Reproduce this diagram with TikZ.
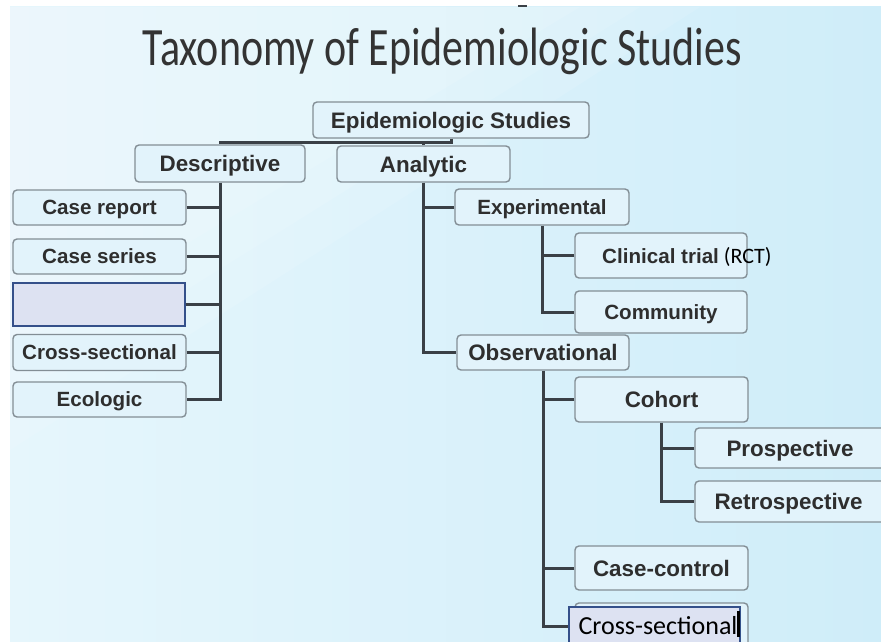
\documentclass[tikz,border=0pt]{standalone}
\usepackage{fontspec}
\setmainfont{Liberation Sans}
\newfontfamily\calib{Carlito}
\usepackage{graphicx}
\definecolor{boxline}{HTML}{838E95}
\definecolor{boxfill}{HTML}{E2F3FB}
\definecolor{txt}{HTML}{2E2E2E}
\definecolor{connc}{HTML}{3A4046}
\definecolor{navy}{HTML}{34508A}
\definecolor{lav}{HTML}{DDE2F2}
\definecolor{bgA}{HTML}{E6F6FC}
\definecolor{bgB}{HTML}{CFEDF9}
\definecolor{titlec}{HTML}{333333}
\begin{document}
\begin{tikzpicture}[x=1pt,y=-1pt,
 box/.style={draw=boxline, line width=1.4pt, rounded corners=4pt, fill=boxfill, inner sep=0pt, text=txt,
   font=\bfseries\fontsize{20.6}{24}\selectfont, text height=14.7pt, text depth=0pt},
 bigbox/.style={box, font=\bfseries\fontsize{22.4}{26}\selectfont, text height=16pt},
 conn/.style={draw=connc, line width=3pt},
 hl/.style={draw=navy, line width=1.3pt, fill=lav, inner sep=0pt}]
\useasboundingbox (0,0) rectangle (881,642);
\clip (0,0) rectangle (881,642);
\fill[white] (0,0) rectangle (881,642);
\shade[left color=bgA, right color=bgB] (10,7) rectangle (881,642);
\fill[white, opacity=0.1] (10,7) -- (700,7) -- (10,450) -- cycle;
\fill[white, opacity=0.1] (10,7) -- (640,7) -- (10,400) -- cycle;
\fill[white, opacity=0.1] (10,7) -- (580,7) -- (10,350) -- cycle;
\draw[connc, line width=1.5pt] (518,6) -- (527,6);
% title
\node[anchor=base, text=titlec, inner sep=0pt, font=\calib\fontsize{54}{60}\selectfont] (title) at (442.5,65)
  {\resizebox{599pt}{\height}{Taxonomy of Epidemiologic Studies}};
% nodes
\node[bigbox, minimum width=276pt, minimum height=36pt] (epi) at (451,120) {Epidemiologic Studies};
\node[bigbox, minimum width=170pt, minimum height=37pt] (desc) at (220,163.5) {Descriptive};
\node[bigbox, minimum width=173pt, minimum height=36pt] (ana) at (423.5,164) {Analytic};
\node[box, minimum width=173pt, minimum height=35pt] (crep) at (99.5,207.5) {Case report};
\node[box, minimum width=173pt, minimum height=35pt] (cser) at (99.5,256.5) {Case series};
\node[hl, minimum width=172pt, minimum height=43pt] (blank) at (99,304.5) {};
\node[box, minimum width=173pt, minimum height=36pt] (cross1) at (99.5,352.5) {Cross-sectional};
\node[box, minimum width=173pt, minimum height=35pt] (eco) at (99.5,399.5) {Ecologic};
\node[box, minimum width=174pt, minimum height=36pt] (exp) at (542,207) {Experimental};
\node[box, minimum width=172pt, minimum height=45pt] (clin) at (661,255.5) {};
\node[anchor=base west, inner sep=0pt, text=txt, font=\bfseries\fontsize{20.6}{24}\selectfont] (clint) at (602,263)
  {Clinical trial\hspace{5pt}{\calib\mdseries\color{black}\fontsize{22}{26}\selectfont(RCT)}};
\node[box, minimum width=172pt, minimum height=42pt] (comm) at (661,312) {Community};
\node[bigbox, minimum width=172pt, minimum height=35pt] (obs) at (543,352.5) {Observational};
\node[bigbox, minimum width=173pt, minimum height=45pt] (coh) at (661.5,399.5) {Cohort};
\node[bigbox, minimum width=195pt, minimum height=40pt, text width=176pt, align=left] (pros) at (792.5,448) {\hspace{22pt}Prospective};
\node[bigbox, minimum width=195pt, minimum height=41pt, text width=176pt, align=left] (retro) at (792.5,501.5) {\hspace{10pt}Retrospective};
\node[bigbox, minimum width=173pt, minimum height=44pt] (cc) at (661.5,568) {Case-control};
% connectors
\coordinate (j) at (451,142);
\draw[conn] (epi.south) -- (j) -| (desc.north);
\draw[conn] (ana.north) -- (ana.north |- j);
\draw[conn] (desc.south) |- (eco.east);
\draw[conn] (crep.east) -- (crep.east -| desc.south);
\draw[conn] (cser.east) -- (cser.east -| desc.south);
\draw[conn] (blank.east) -- (blank.east -| desc.south);
\draw[conn] (cross1.east) -- (cross1.east -| desc.south);
\draw[conn] (ana.south) |- (obs.west);
\draw[conn] (exp.west) -- (exp.west -| ana.south);
\draw[conn] (exp.south) |- (comm.west);
\draw[conn] (clin.west) -- (clin.west -| exp.south);
\draw[conn] (coh.south) |- (retro.west);
\draw[conn] (pros.west) -- (pros.west -| coh.south);
\coordinate (csend) at (575,626);
\draw[conn] (obs.south) |- (csend);
\draw[conn] (coh.west) -- (coh.west -| obs.south);
\draw[conn] (cc.west) -- (cc.west -| obs.south);
% bottom cross-sectional
\node[box, minimum width=173pt, minimum height=46pt] (cs2box) at (661.5,626) {};
\node[hl, minimum width=171pt, minimum height=42pt] (cs2) at (654.5,628) {};
\node[anchor=base, inner sep=0pt, text=black, font=\calib\fontsize{26}{30}\selectfont] (cs2t) at (658,634) {Cross-sectional};
\fill[black] (736.5,611) rectangle (739.5,637);
\end{tikzpicture}
\end{document}
